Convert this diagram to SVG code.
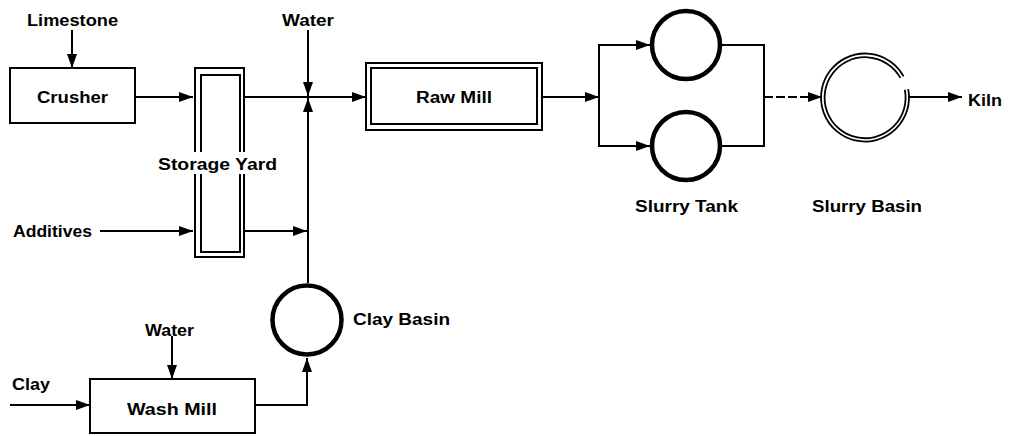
<svg xmlns="http://www.w3.org/2000/svg" width="1016" height="436" viewBox="0 0 1016 436">
<style>
text{font-family:"Liberation Sans",Arial,sans-serif;font-weight:bold;font-size:16px;fill:#000}
.box{fill:#fff;stroke:#000;stroke-width:2}
.tank{fill:none;stroke:#000;stroke-width:4.5}
.basin{fill:none;stroke:#000;stroke-width:1.8}
.ln{fill:none;stroke:#000;stroke-width:2}
.arr{marker-end:url(#ah)}
</style>
<defs>
<marker id="ah" markerUnits="userSpaceOnUse" markerWidth="14" markerHeight="10" refX="14" refY="5" orient="auto">
<path d="M0,0 L14,5 L0,10 z" fill="#000"/>
</marker>
</defs>
<rect width="1016" height="436" fill="#fff"/>
<g id="connectors">
<line class="ln arr" x1="72" y1="30" x2="72" y2="68"/>
<line class="ln arr" x1="135" y1="97" x2="193" y2="97"/>
<line class="ln arr" x1="308" y1="30" x2="308" y2="96"/>
<line class="ln arr" x1="245" y1="97" x2="366" y2="97"/>
<line class="ln arr" x1="100" y1="231" x2="193" y2="231"/>
<line class="ln arr" x1="245" y1="231" x2="307" y2="231"/>
<line class="ln arr" x1="308" y1="283" x2="308" y2="98"/>
<line class="ln arr" x1="10" y1="405" x2="90" y2="405"/>
<line class="ln arr" x1="172" y1="336" x2="172" y2="379"/>
<polyline class="ln arr" points="255,405 307,405 307,358"/>
<line class="ln arr" x1="542" y1="97" x2="599" y2="97"/>
<polyline class="ln" points="649,45 599,45 599,146 649,146"/>
<line class="ln arr" x1="599" y1="45" x2="650" y2="45"/>
<line class="ln arr" x1="599" y1="146" x2="650" y2="146"/>
<polyline class="ln" points="722,45 764,45 764,146 722,146"/>
<line class="ln arr" x1="764" y1="97" x2="822" y2="97" stroke-dasharray="9,3"/>
<line class="ln arr" x1="908" y1="97" x2="962" y2="97"/>
</g>
<g id="limestone"><text x="27" y="26" textLength="91" lengthAdjust="spacingAndGlyphs">Limestone</text></g>
<g id="water-top"><text x="282" y="26" textLength="52" lengthAdjust="spacingAndGlyphs">Water</text></g>
<g id="crusher">
<rect class="box" x="10" y="68" width="125" height="55"/>
<text x="37" y="103" textLength="71" lengthAdjust="spacingAndGlyphs">Crusher</text>
</g>
<g id="storage-yard">
<rect class="box" x="195" y="68" width="49" height="189"/>
<rect class="box" x="201" y="75" width="39" height="177"/>
<rect x="156" y="152" width="124" height="22" fill="#fff"/>
<text x="158" y="170" textLength="119" lengthAdjust="spacingAndGlyphs">Storage Yard</text>
</g>
<g id="additives"><text x="13" y="237" textLength="79" lengthAdjust="spacingAndGlyphs">Additives</text></g>
<g id="raw-mill">
<rect class="box" x="366" y="63" width="176" height="67"/>
<rect class="box" x="371" y="68" width="166" height="56"/>
<text x="416" y="103" textLength="76" lengthAdjust="spacingAndGlyphs">Raw Mill</text>
</g>
<g id="slurry-tank">
<circle class="tank" cx="686" cy="45" r="34"/>
<circle class="tank" cx="686" cy="146" r="34"/>
<text x="635" y="212" textLength="103" lengthAdjust="spacingAndGlyphs">Slurry Tank</text>
</g>
<g id="slurry-basin">
<path class="basin" d="M908.2 89.1 A44 44 0 1 1 903.5 76.2"/>
<path class="basin" d="M904.8 89.8 A40.5 40.5 0 1 1 900.4 77.9"/>
<text x="812" y="212" textLength="110" lengthAdjust="spacingAndGlyphs">Slurry Basin</text>
</g>
<g id="kiln"><text x="968" y="106" textLength="34" lengthAdjust="spacingAndGlyphs">Kiln</text></g>
<g id="clay-basin">
<circle class="tank" cx="307" cy="320" r="34.5"/>
<text x="353" y="325" textLength="97" lengthAdjust="spacingAndGlyphs">Clay Basin</text>
</g>
<g id="water-bottom"><text x="145" y="336" textLength="49" lengthAdjust="spacingAndGlyphs">Water</text></g>
<g id="clay"><text x="12" y="390" textLength="38" lengthAdjust="spacingAndGlyphs">Clay</text></g>
<g id="wash-mill">
<rect class="box" x="90" y="379" width="165" height="54"/>
<text x="127" y="415" textLength="90" lengthAdjust="spacingAndGlyphs">Wash Mill</text>
</g>
</svg>
